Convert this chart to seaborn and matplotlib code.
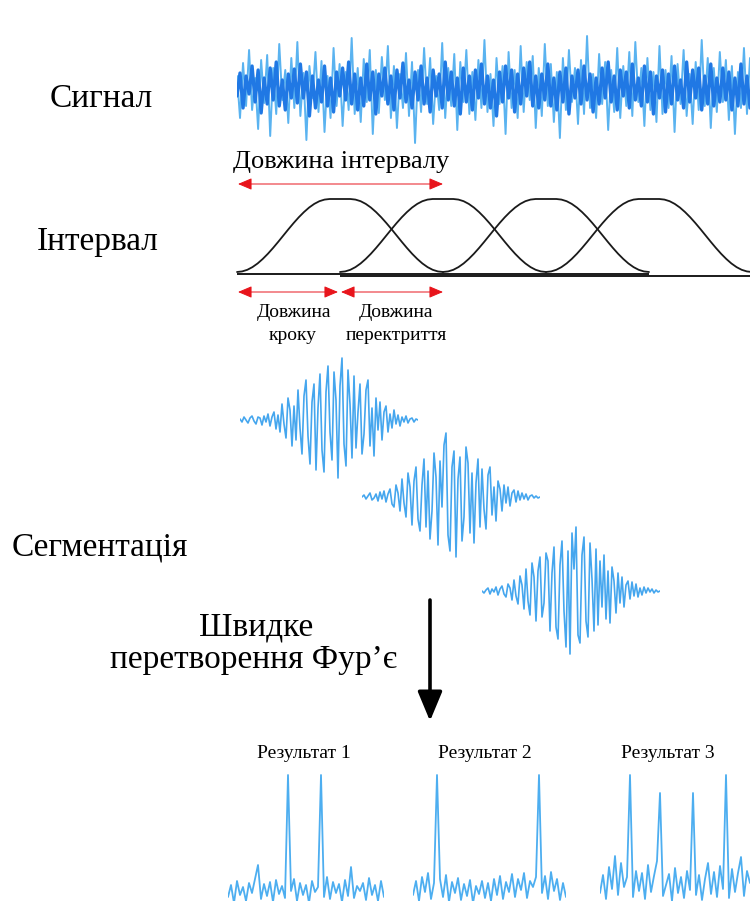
import numpy as np
import matplotlib
matplotlib.use("Agg")
import matplotlib.pyplot as plt
import seaborn as sns

# ---------------- data ----------------
SIGNAL_LIGHT = [
    12, -30, 25, -18, 38, -22, 10, -41, 28, -15, 33, -48, 20, -26, 44, -12, 18, -35, 30, -20,
    46, -28, 15, -52, 22, -10, 36, -24, 27, -44, 12, -30, 40, -18, 24, -38, 16, -22, 50, -26,
    20, -34, 29, -14, 38, -46, 18, -25, 31, -12, 42, -30, 22, -40, 14, -20, 35, -28, 26, -55,
    18, -24, 40, -16, 30, -36, 12, -22, 45, -30, 20, -18, 34, -42, 26, -14, 38, -26, 16, -32,
    28, -20, 48, -24, 14, -38, 30, -16, 22, -46, 36, -20, 18, -30, 42, -24, 26, -12, 32, -40,
    20, -28, 44, -18, 24, -34, 16, -50, 30, -22, 38, -14, 20, -36, 28, -26, 52, -20, 14, -30,
    34, -16, 26, -42, 18, -24, 40, -30, 22, -18, 36, -28, 46, -14, 20, -38, 30, -22, 16, -34,
    42, -26, 18, -20, 32, -44, 24, -16, 38, -28, 14, -36, 26, -22, 48, -18, 30, -40, 20, -24,
    36, -14, 28, -32, 22, -46, 16, -20, 40, -26, 30,
]
SIGNAL_DARK = [
    -8, 15, -20, 12, -6, 22, -14, 18, -25, 10, -16, 20, -12, 26, -18, 8, -22, 14, -10, 19,
    -15, 24, -10, 16, -28, 12, -20, 8, -14, 22, -18, 10, -24, 16, -8, 20, -12, 26, -16, 14,
    -22, 10, -18, 24, -12, 16, -26, 14, -8, 20, -16, 12, -22, 18, -10, 25, -14, 8, -20, 16,
    -12, 22, -16, 10, -24, 18, -8, 14, -20, 26, -12, 16, -18, 10, -26, 20, -14, 12, -22, 18,
    -10, 24, -16, 12, -20, 8, -28, 16, -14, 22, -10, 18, -24, 14, -16, 20, -8, 26, -18, 12,
    -20, 14, -12, 24, -18, 10, -22, 16, -14, 20, -26, 12, -10, 18, -16, 22, -12, 14, -24, 10,
    -16, 20, -10, 26, -14, 12, -22, 18, -8, 16, -20, 24, -12, 10, -18, 22, -14, 16, -26, 12,
    -10, 18, -24, 14, -16, 22, -12, 8, -20, 26, -14, 18, -10, 20, -22, 12, -16, 24, -18, 10,
    -14, 20, -12, 16, -22, 10, -18, 24, -16, 12, -20,
]

WINDOW_SHAPE = [0, .008, .03, .067, .117, .179, .25, .329, .413, .5, .587, .671, .75, .821,
                .883, .933, .97, .992, 1, 1, 1, 1, 1, .992, .97, .933, .883, .821, .75, .671,
                .587, .5, .413, .329, .25, .179, .117, .067, .03, .008, 0]
N_WINDOWS = 4
HOP = 1.0
WIN_LEN = 2.0

SEGMENT_1 = [
    1, -2, 3, 0, -3, 2, 4, -1, -4, 3,
    2, -5, 4, -2, 6, -6, 3, 8, -9, 5,
    -12, 16, -4, -18, 22, 10, -26, 14, -20, 30,
    -8, -34, 24, 40, -16, -44, 18, 36, -50, 12,
    46, -30, -52, 28, 54, -12, -40, 48, 20, -58,
    34, 62, -24, -46, 50, 16, -38, 44, -28, 8,
    36, -34, -14, 30, 40, -26, 12, -36, 22, -10,
    18, -20, 8, 14, -12, 6, -8, 10, -4, 5,
    -6, 3, -2, 4, -3, 1, 2, -2, 1, 0,
]
SEGMENT_2 = [
    0, 2, -2, 1, 4, -3, -1, 3, -4, 5,
    -2, 6, -5, 3, 8, -7, -10, 12, 4, -14,
    18, -6, -20, 24, 10, -28, 16, 30, -22, -34,
    12, 38, -30, 26, -42, -14, 44, 20, -48, 36,
    -10, 52, 64, -38, -54, 30, 46, -60, 18, 40,
    -44, -20, 50, 34, -36, 24, -46, 14, 38, -30,
    28, -12, -32, 22, 30, -18, 10, -24, 16, 8,
    -14, 12, -6, 10, -9, 4, 7, -5, 6, -3,
    4, -2, 3, -3, 1, 2, -1, 1, -1, 0,
]
SEGMENT_3 = [
    0, -2, 1, 3, -3, 2, -1, 4, -4, 2,
    5, -3, -6, 7, 3, -9, 11, -5, -13, 15,
    6, -18, 22, -10, -24, 28, 14, -30, 20, 34,
    -26, -12, 38, 30, -40, 18, 44, -36, -48, 26,
    50, -20, -56, 40, -63, 58, 22, 64, -44, -52,
    36, 54, -30, -46, 48, 12, -40, 42, -34, 30,
    -16, 36, -28, 20, -32, 24, 10, -22, 18, -12,
    14, -16, 6, 10, -8, 9, -5, 7, -6, 3,
    -4, 4, -2, 3, -1, 2, -2, 1, -1, 0,
]

SPECTRUM_1 = [
    4, 16, -2, 20, 6, 14, 0, 18, 8, 22,
    36, 2, 17, 5, 19, -1, 21, 7, 15, 3,
    126, 10, 22, 0, 18, 6, 16, -2, 20, 9,
    14, 126, 4, 24, 2, 19, 8, 17, -1, 21,
    5, 34, 3, 15, 10, 18, 1, 23, 6, 16,
    0, 20, 4,
]
SPECTRUM_2 = [
    6, 20, 0, 24, 9, 28, 2, 18, 126, 22,
    4, 26, -1, 19, 8, 23, 1, 17, 5, 21,
    -2, 15, 7, 20, 3, 18, 0, 22, 6, 25,
    2, 19, 9, 27, 4, 22, 11, 28, 3, 20,
    14, 24, 126, 8, 25, 2, 29, 10, 22, 1,
    18, 4,
]
SPECTRUM_3 = [
    8, 26, 2, 34, 12, 45, 6, 38, 14, 24,
    126, 4, 30, 10, 28, 2, 36, 9, 25, 40,
    108, 5, 16, 27, 0, 33, 8, 24, 3, 30,
    11, 108, 6, 26, 1, 22, 38, 7, 29, 4,
    35, 12, 126, 3, 32, 9, 28, 44, 5, 30,
    18,
]

ROW_LABELS = ["Сигнал", "Інтервал", "Сегментація"]
FFT_LABEL = ["Швидке", "перетворення Фур’є"]
RESULT_LABELS = ["Результат 1", "Результат 2", "Результат 3"]

# ---------------- style ----------------
sns.set_theme(style="white")
plt.rcParams["font.family"] = ["Liberation Serif", "DejaVu Serif"]
plt.rcParams["text.color"] = "black"

W, H = 750, 901
fig = plt.figure(figsize=(W / 100, H / 100), dpi=100)
fig.patch.set_facecolor("white")

LIGHT = "#5ab3f0"
DARK = "#2078e4"
MID = "#45a6ee"


def px_axes(x0, y0, x1, y1, z=1):
    ax = fig.add_axes([x0 / W, 1 - y1 / H, (x1 - x0) / W, (y1 - y0) / H], zorder=z)
    ax.set_axis_off()
    ax.patch.set_alpha(0)
    return ax


def trace(ax, values, color, lw):
    sns.lineplot(x=np.arange(len(values)), y=values, ax=ax, color=color,
                 linewidth=lw, estimator=None)
    ax.set_xlim(0, len(values) - 1)


# signal
ax_sig = px_axes(237, 26, 750, 150)
trace(ax_sig, SIGNAL_LIGHT, LIGHT, 1.4)
trace(ax_sig, SIGNAL_DARK, DARK, 2.4)
ax_sig.set_ylim(-62, 62)

# windows
ax_win = px_axes(237, 190, 750, 282)
win_x = np.linspace(0, WIN_LEN, len(WINDOW_SHAPE))
for k in range(N_WINDOWS):
    sns.lineplot(x=k * HOP + win_x, y=WINDOW_SHAPE, ax=ax_win, color="#1a1a1a",
                 linewidth=1.3, estimator=None)
    base = -0.03 if k % 2 == 0 else -0.06
    ax_win.hlines(base, k * HOP, k * HOP + WIN_LEN, color="#1a1a1a", linewidth=1.4)
ax_win.set_xlim(0, 513 / 103)
ax_win.set_ylim(-10 / 73, 1 + 9 / 73)
for ln in ax_win.lines:
    ln.set_clip_on(False)

# segments
for seg, (x0, yc) in zip([SEGMENT_1, SEGMENT_2, SEGMENT_3],
                         [(240, 420), (362, 497), (482, 591)]):
    ax = px_axes(x0, yc - 70, x0 + 178, yc + 70)
    trace(ax, seg, MID, 1.2)
    ax.set_ylim(-70, 70)

# spectra
for spec, x0 in zip([SPECTRUM_1, SPECTRUM_2, SPECTRUM_3], [228, 413, 600]):
    ax = px_axes(x0, 760, x0 + 3 * (len(spec) - 1), 901)
    trace(ax, spec, "#4daef0", 1.3)
    ax.set_ylim(0, 141)

# ---------------- annotations canvas ----------------
cv = px_axes(0, 0, W, H, z=5)
cv.set_xlim(0, W)
cv.set_ylim(H, 0)

big = 24
cv.text(50, 107, ROW_LABELS[0], fontsize=big, va="baseline", ha="left")
cv.text(37, 250, ROW_LABELS[1], fontsize=big, va="baseline", ha="left")
cv.text(12, 555, ROW_LABELS[2], fontsize=big, va="baseline", ha="left")
cv.text(256, 635, FFT_LABEL[0], fontsize=big, va="baseline", ha="center")
cv.text(253, 668, FFT_LABEL[1], fontsize=big, va="baseline", ha="center")

cv.text(233, 168, "Довжина інтервалу", fontsize=19, va="baseline", ha="left")
cv.text(294, 317, "Довжина", fontsize=14, va="baseline", ha="center")
cv.text(293, 340, "кроку", fontsize=14, va="baseline", ha="center")
cv.text(396, 317, "Довжина", fontsize=14, va="baseline", ha="center")
cv.text(396, 340, "перектриття", fontsize=14, va="baseline", ha="center")

for lab, xc in zip(RESULT_LABELS, [304, 485, 668]):
    cv.text(xc, 758, lab, fontsize=14, va="baseline", ha="center")

red_style = dict(arrowstyle="<|-|>,head_length=0.85,head_width=0.36", color="#e8141b",
                 lw=0.7, shrinkA=0, shrinkB=0, mutation_scale=10)
cv.annotate("", xy=(443, 184), xytext=(238, 184), arrowprops=red_style)
cv.annotate("", xy=(338, 292), xytext=(238, 292), arrowprops=red_style)
cv.annotate("", xy=(443, 292), xytext=(341, 292), arrowprops=red_style)

cv.annotate("", xy=(430, 721), xytext=(430, 600),
            arrowprops=dict(arrowstyle="-|>,head_length=1.8,head_width=0.75",
                            color="black", lw=2.6, shrinkA=0, shrinkB=0,
                            mutation_scale=10))

fig.savefig("out.png", dpi=100, facecolor="white")
